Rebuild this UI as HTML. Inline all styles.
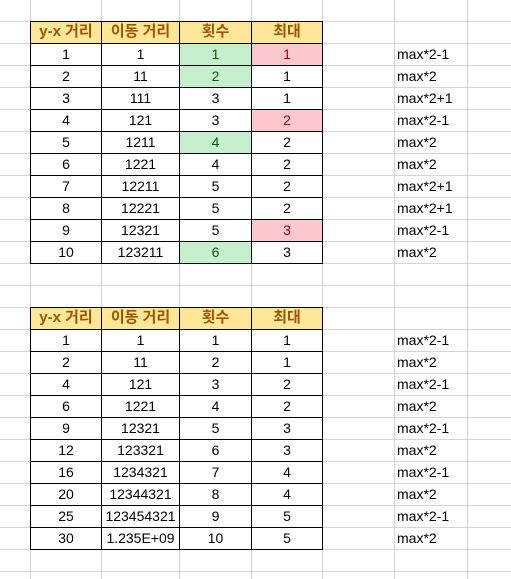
<!DOCTYPE html>
<html><head><meta charset="utf-8"><style>
body{margin:0;width:511px;height:579px;overflow:hidden;background:#fff;font-family:"Liberation Sans","Noto Sans CJK KR",sans-serif;font-size:14px;color:#000;position:relative}
.gv{position:absolute;top:0;width:1px;height:579px;background:#d4d4d4}
.gh{position:absolute;left:0;height:1px;width:511px;background:#d4d4d4}
.c{position:absolute;box-sizing:border-box;border:1px solid #000;text-align:center;line-height:20px;white-space:nowrap;overflow:hidden}
.h{background:#ffe699;color:#9c5700;font-weight:bold;font-size:15px}
.g{background:#c6efce;color:#006100}
.r{background:#ffc7ce;color:#9c0006}
.f{position:absolute;left:397px;line-height:22px;white-space:nowrap}
</style></head><body>
<div id="grid"></div>
<script>
const colX=[30,101,179,251,322,394,467];
const headers=['y-x 거리','이동 거리','횟수','최대'];
const t1Dist=['1','2','3','4','5','6','7','8','9','10'];
const t1Move=['1','11','111','121','1211','1221','12211','12221','12321','123211'];
const t1Count=['1','2','3','3','4','4','5','5','5','6'];
const t1Max=['1','1','1','2','2','2','2','2','3','3'];
const t1Formula=['max*2-1','max*2','max*2+1','max*2-1','max*2','max*2','max*2+1','max*2+1','max*2-1','max*2'];
const t1Green=[0,1,4,9];
const t1Red=[0,3,8];
const t2Dist=['1','2','4','6','9','12','16','20','25','30'];
const t2Move=['1','11','121','1221','12321','123321','1234321','12344321','123454321','1.235E+09'];
const t2Count=['1','2','3','4','5','6','7','8','9','10'];
const t2Max=['1','1','2','2','3','3','4','4','5','5'];
const t2Formula=['max*2-1','max*2','max*2-1','max*2','max*2-1','max*2','max*2-1','max*2','max*2-1','max*2'];
const g=document.getElementById('grid');
colX.forEach(x=>{const d=document.createElement('div');d.className='gv';d.style.left=x+'px';


g.appendChild(d);});
for(let y=21;y<579;y+=22){const d=document.createElement('div');d.className='gh';d.style.top=y+'px';


g.appendChild(d);}
function cell(ci,y,text,cls,name){const d=document.createElement('div');d.className='c '+cls;
d.style.left=colX[ci]+'px';d.style.top=y+'px';d.style.width=(colX[ci+1]-colX[ci]+1)+'px';d.style.height='23px';d.textContent=text;


g.appendChild(d);}
function table(top,dist,move,count,max,form,green,red,prefix){
headers.forEach((h,i)=>cell(i,top,h,'h',prefix+'-header'));
for(let k=0;k<dist.length;k++){const y=top+22*(k+1);
cell(0,y,dist[k],'',prefix+'-distance-cell');
cell(1,y,move[k],'',prefix+'-move-cell');
cell(2,y,count[k],green.includes(k)?'g':'',prefix+'-count-cell');
cell(3,y,max[k],red.includes(k)?'r':'',prefix+'-max-cell');
const f=document.createElement('div');f.className='f';f.style.top=y+'px';f.textContent=form[k];


g.appendChild(f);}}
table(21,t1Dist,t1Move,t1Count,t1Max,t1Formula,t1Green,t1Red,'table1');
table(307,t2Dist,t2Move,t2Count,t2Max,t2Formula,[],[],'table2');
</script>
</body></html>
